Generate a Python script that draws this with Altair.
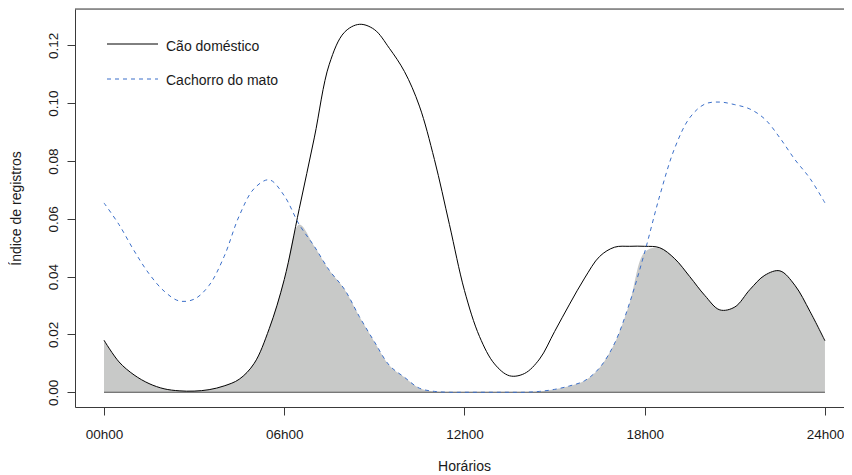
import altair as alt
import pandas as pd

# ---- data ----
hours = [0, 0.5, 1, 1.5, 2, 2.5, 3, 3.5, 4, 4.5, 5, 5.5, 6, 6.5, 7, 7.5, 8, 8.5,
         9, 9.5, 10, 10.5, 11, 11.5, 12, 12.5, 13, 13.5, 14, 14.5, 15, 15.5, 16,
         16.5, 17, 17.5, 18, 18.5, 19, 19.5, 20, 20.5, 21, 21.5, 22, 22.5, 23,
         23.5, 24]

cao_domestico = [0.0180, 0.0105, 0.0060, 0.0030, 0.0012, 0.0005, 0.0004, 0.0009,
                 0.0022, 0.0045, 0.0100, 0.0220, 0.0390, 0.0635, 0.0880, 0.1135,
                 0.1245, 0.1273, 0.1255, 0.1190, 0.1110, 0.0990, 0.0805, 0.0580,
                 0.0352, 0.0193, 0.0098, 0.0057, 0.0065, 0.0115, 0.0210, 0.0305,
                 0.0395, 0.0470, 0.0502, 0.0505, 0.0505, 0.0500, 0.0462, 0.0400,
                 0.0335, 0.0285, 0.0295, 0.0355, 0.0405, 0.0420, 0.0370, 0.0280,
                 0.0178]

cachorro_do_mato = [0.0655, 0.0580, 0.0490, 0.0410, 0.0350, 0.0316, 0.0322, 0.0370,
                    0.0470, 0.0610, 0.0705, 0.0735, 0.0680, 0.0580, 0.0505, 0.0422,
                    0.0357, 0.0262, 0.0175, 0.0093, 0.0052, 0.0014, 0.0003, 0.0,
                    0.0, 0.0, 0.0, 0.0, 0.0, 0.0003, 0.0010, 0.0022, 0.0040, 0.0085,
                    0.0170, 0.0310, 0.0485, 0.0680, 0.0845, 0.0950, 0.0997, 0.1004,
                    0.0995, 0.0980, 0.0945, 0.0880, 0.0805, 0.0740, 0.0655]

series_names = ["Cão doméstico", "Cachorro do mato"]
hour_ticks = [0, 6, 12, 18, 24]
hour_labels = ["00h00", "06h00", "12h00", "18h00", "24h00"]
y_ticks = [0.00, 0.02, 0.04, 0.06, 0.08, 0.10, 0.12]

x_title = "Horários"
y_title = "Índice de registros"

# ---- tables ----
df = pd.DataFrame({"hora": hours, "cao": cao_domestico, "mato": cachorro_do_mato})
df["overlap"] = df[["cao", "mato"]].min(axis=1)

long = pd.concat([
    pd.DataFrame({"hora": hours, "valor": cao_domestico, "serie": series_names[0]}),
    pd.DataFrame({"hora": hours, "valor": cachorro_do_mato, "serie": series_names[1]}),
])

FONT = "Liberation Sans"
W, H = 769, 398
XDOM = [-0.9654, 24.634]
YDOM = [-0.0051, 0.1326]
BOX = "#3a3a3a"
BLUE = "#3b6fc9"
INTERP = "catmull-rom"

label_expr = "[" + ",".join("'%s'" % s for s in hour_labels) + "][round(datum.value/6)]"

xscale = alt.Scale(domain=XDOM, nice=False, zero=False)
yscale = alt.Scale(domain=YDOM, nice=False, zero=False)

xaxis = alt.Axis(values=hour_ticks, labelExpr=label_expr, title=x_title,
                 grid=False, domain=True, domainColor=BOX, tickColor=BOX,
                 tickSize=8, labelPadding=12, labelFontSize=13.5, labelFont=FONT,
                 labelColor="#1a1a1a", titleFont=FONT, titleFontSize=14,
                 titleFontWeight="normal", titleColor="#1a1a1a",
                 titleX=389, titleY=63, titleBaseline="alphabetic",
                 titleAnchor="start", titleAlign="center")
yaxis = alt.Axis(values=y_ticks, format=".2f", title=y_title, grid=False,
                 domain=True, domainColor=BOX, tickColor=BOX, tickSize=8,
                 labelAngle=-90, labelAlign="center", labelBaseline="alphabetic",
                 labelPadding=10, labelFontSize=13.5, labelFont=FONT,
                 labelColor="#1a1a1a", titleFont=FONT, titleFontSize=14,
                 titleFontWeight="normal", titleColor="#1a1a1a",
                 titleAngle=270, titleX=-55, titleY=199, titleAlign="center",
                 titleBaseline="alphabetic", titleAnchor="start")

base = alt.Chart(df)

area = base.mark_area(color="#c8c9c8", interpolate=INTERP, opacity=1).encode(
    x=alt.X("hora:Q", scale=xscale, axis=xaxis),
    y=alt.Y("overlap:Q", scale=yscale, axis=yaxis),
    y2=alt.datum(0),
)

baseline = alt.Chart(pd.DataFrame({"a": [hours[0]], "b": [hours[-1]]})).mark_rule(
    color="#505050", strokeWidth=1
).encode(x=alt.X("a:Q", scale=xscale), x2="b:Q", y=alt.datum(0))

line_cao = alt.Chart(long[long.serie == series_names[0]]).mark_line(
    color="black", strokeWidth=1, interpolate=INTERP
).encode(x=alt.X("hora:Q", scale=xscale), y=alt.Y("valor:Q", scale=yscale))

line_mato = alt.Chart(long[long.serie == series_names[1]]).mark_line(
    color=BLUE, strokeWidth=1, strokeDash=[4, 4], interpolate=INTERP
).encode(x=alt.X("hora:Q", scale=xscale), y=alt.Y("valor:Q", scale=yscale))

top_border = alt.Chart(pd.DataFrame({"k": [0]})).mark_rule(color=BOX, strokeWidth=1).encode(
    x=alt.value(0), x2=alt.value(W), y=alt.value(0)
)

# legend (top-left, inside the box)
leg_line1 = alt.Chart(pd.DataFrame({"k": [0]})).mark_rule(color="black", strokeWidth=1).encode(
    x=alt.value(32), x2=alt.value(83), y=alt.value(35))
leg_line2 = alt.Chart(pd.DataFrame({"k": [0]})).mark_rule(
    color=BLUE, strokeWidth=1, strokeDash=[4, 4]).encode(
    x=alt.value(32), x2=alt.value(83), y=alt.value(70))
leg_text1 = alt.Chart(pd.DataFrame({"t": [series_names[0]]})).mark_text(
    align="left", baseline="alphabetic", font=FONT, fontSize=14, color="#1a1a1a").encode(
    x=alt.value(91), y=alt.value(41.5), text="t:N")
leg_text2 = alt.Chart(pd.DataFrame({"t": [series_names[1]]})).mark_text(
    align="left", baseline="alphabetic", font=FONT, fontSize=14, color="#1a1a1a").encode(
    x=alt.value(91), y=alt.value(76), text="t:N")

chart = alt.layer(
    area, baseline, line_cao, line_mato, top_border,
    leg_line1, leg_line2, leg_text1, leg_text2
).properties(
    width=W, height=H,
    autosize=alt.AutoSizeParams(type="none"),
    padding={"left": 67, "top": 1, "right": 0, "bottom": 66},
).configure_view(stroke=None).configure(background="white")

chart.save("out.html", embed_options={"renderer": "svg", "actions": False})
